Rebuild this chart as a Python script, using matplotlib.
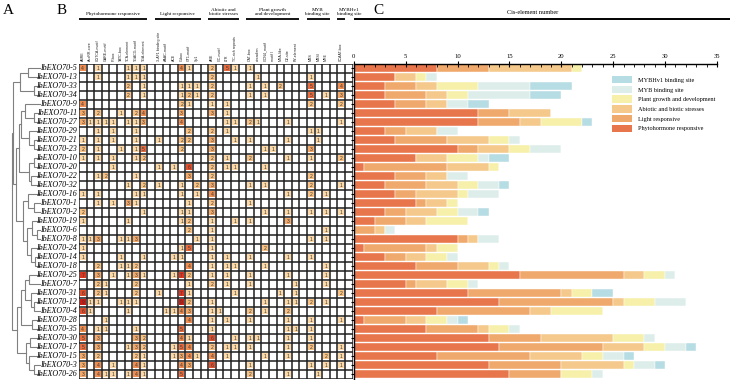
"""Cis-element chart for the IbEXO70 genes: tree, count table and stacked bars."""

import matplotlib
matplotlib.use('Agg')
import matplotlib.pyplot as plt
from matplotlib.patches import Rectangle, Patch
from matplotlib.lines import Line2D
import numpy as np

# ---- data -------------------------------------------------------------
genes = ['5', '13', '33', '34', '9', '11', '27', '29', '21', '23', '10', '20',
         '22', '32', '16', '1', '2', '19', '6', '8', '24', '14', '18', '25',
         '7', '31', '12', '4', '28', '35', '30', '17', '15', '3', '26']

phyto_elements = ['ABRE', 'AuxRR-core', 'CGTCA-motif', 'GARE-motif', 'P-box',
                  'TATC-box', 'TCA-element', 'TGACG-motif', 'TGA-element']
light_elements = ['3-AF1 binding site', 'AAAC-motif', 'ACE', 'G-box',
                  'GT1-motif', 'Sp1']
stress_elements = ['ARE', 'GC-motif', 'LTR', 'TC-rich repeats']
growth_elements = ['CAT-box', 'circadian', 'GCN4_motif', 'motif I',
                   'MSA-like', 'O2-site', 'RY-element']
myb_elements = ['MBS', 'MBSI', 'MRE']
mybhv1_elements = ['CCAAT-box']

group_names = ['Phytohormone responsive', 'Light responsive',
               'Abiotic and biotic stresses', 'Plant growth and development',
               'MYB binding site', 'MYBHv1 binding site']
group_headers = ['Phytohormone responsive', 'Light responsive',
                 'Abiotic and\nbiotic stresses', 'Plant growth\nand development',
                 'MYB\nbinding site', 'MYBHv1\nbinding site']
group_colors = ['#E8764C', '#F0A96C', '#F5C98C', '#F6F0AA', '#DDEEEA', '#B6DCE4']

# counts per gene, one char per element ('.' = 0), groups split by spaces
counts = [
    "4.1...111 ...41. 2.51 1...... ... .",
    "..1...111 ...... 2... .1..... 1.. .",
    "......2.1 ...111 2... 1.1.2.. 5.. 4",
    "......2.1 ...121 2... 1.1.... 5.1 3",
    "4........ ...21. 1.1. ....... 2.. 2",
    "3.2..1.24 ...3.. 3.1. ....... ... .",
    "31111.113 ...4.. ..11 21...1. ... 1",
    "..1.1..1. ....2. 2.1. ....... 11. .",
    "1.1.1..1. 1..22. 3..1 1....1. .1. .",
    "2.1..1.15 ...2.. 3... ..11... 3.. .",
    "1.1.1..12 ...... 2.1. 2....1. 1.. 2",
    "....1.... 1.1.6. 2.11 ..1.... ... .",
    "..12...1. ....3. 2... ....... 2.. .",
    "......1.2 1..1.2 3... 1.1.... 2.. 1",
    "1.1....11 ...1.1 4... .....1. 2.1 .",
    "..1.1.31. ....1. 2... 1...... ... .",
    "2.......1 ...11. 3... ..1..1. 1.1 1",
    "1.....1.. ...12. 1..1 1....3. ... .",
    "......... ....2. 1... ....... ..1 .",
    "113..113. .....1 1... ....... 1.1 .",
    "1........ ...15. 1... ..2.... ... .",
    "1....1..1 ..11.. 1.1. 1....1. 1.. .",
    "..2..112. ....4. 1.11 ..1.... ..1 .",
    "7.3.1.131 ..172. 1.1. 1....1. ..1 .",
    "..21...2. ....1. 2.1. 1.....1 ..1 .",
    "6.21...2. 1..71. ...1 ....1.1 ... 2",
    "911..111. ...92. 1... ..1..11 2.1 .",
    "61....1.. .1143. 11.. 2.1..2. ... .",
    "...1..... ....4. 1.1. 1....1. 1.. 1",
    "4.11...1. ...5.. 1... .....11 1.. .",
    "5.3....32 ...41. 6..1 11...1. 1.. .",
    "5.3...132 ..154. 2.11 1....1. 2.. 1",
    "3.2....21 ..1341 4.1. ..1..1. ..2 1",
    "3.4.1..41 ...43. 6... 1...... 1.1 1",
    "3.411.141 ...5.. .... 2....1. .1. .",
]

# clustering tree: (left, right, height), leaves are gene numbers
tree = (
    ((("5", "13", 0.44), ("33", "34", 0.25), 0.72),
     (((("9", ("11", "27", 0.25), 0.56), ("29", ("21", "23", 0.25), 0.40), 0.68),
       (("10", "20", 0.25), ("22", "32", 0.35), 0.42), 0.76),
      (("16", ("1", "2", 0.25), 0.44),
       (("19", ("6", "8", 0.15), 0.32), ("24", ("14", "18", 0.22), 0.36), 0.50), 0.62),
      0.88),
     0.97),
    (((("25", "7", 0.42), ("31", ("12", "4", 0.25), 0.36), 0.56),
      ("28", "35", 0.30), 0.70),
     ((("30", "17", 0.38), ("15", ("3", "26", 0.25), 0.40), 0.52)),
     0.82),
    1.0)

cell_colors = {1: '#FCD9A6', 2: '#F9C283', 3: '#F5A968', 4: '#F08C4E',
               5: '#EA6C3C', 6: '#E4502C', 7: '#DE3520', 9: '#CF1A12'}

# ---- layout ----------------------------------------------------------
W, H = 730, 380
SERIF = 'Liberation Serif'
SANS = 'Liberation Sans'

fig = plt.figure(figsize=(W / 100, H / 100), dpi=100)


def px_axes(x0, y0, x1, y1):
    return fig.add_axes([x0 / W, 1 - y1 / H, (x1 - x0) / W, (y1 - y0) / H])


TOP, BOTTOM = 63.5, 378.5
ax_tree = px_axes(11, TOP, 41, BOTTOM)
ax_heat = px_axes(79, TOP, 352.6, BOTTOM)
ax_bar = px_axes(353.8, TOP, 717, BOTTOM)

n_genes = len(genes)
groups = [phyto_elements, light_elements, stress_elements, growth_elements,
          myb_elements, mybhv1_elements]
header_shift = [0, 0, 0, 0, -0.1, 1.0]   # nudges so the last two headers don't touch

# element -> table column (one blank column after every group)
element_cols, spans = [], []
pos = 0
for elems in groups:
    start = pos
    for _ in elems:
        element_cols.append(pos)
        pos += 1
    spans.append((start, pos))
    pos += 1
n_cols = pos

matrix = np.array([[0 if ch == '.' else int(ch) for ch in row.replace(' ', '')]
                   for row in counts])

# ---- dendrogram --------------------------------------------------------
leaf_y = {g: i + 0.5 for i, g in enumerate(genes)}


def draw_node(node):
    if isinstance(node, str):
        return leaf_y[node], 0.0
    a, b, h = node
    ya, ha = draw_node(a)
    yb, hb = draw_node(b)
    ax_tree.plot([ha, h, h, hb], [ya, ya, yb, yb], color='#808080', lw=0.8,
                 solid_joinstyle='miter')
    return (ya + yb) / 2, h


draw_node(tree)
ax_tree.set_xlim(1.04, 0)
ax_tree.set_ylim(n_genes, 0)
ax_tree.axis('off')

# ---- heat table --------------------------------------------------------
for r in range(n_genes):
    for e, c in enumerate(element_cols):
        v = matrix[r, e]
        if v == 0:
            continue
        ax_heat.add_patch(Rectangle((c + 0.12, r + 0.12), 0.76, 0.76,
                                    facecolor=cell_colors[v], edgecolor='none'))
        ax_heat.text(c + 0.5, r + 0.55, str(v), ha='center', va='center',
                     fontsize=3.6, color='#3a3a3a', family=SANS)

ax_heat.vlines(np.arange(n_cols + 1), 0, n_genes, color='#1e1e1e', lw=1.1)
ax_heat.hlines(np.arange(n_genes + 1), 0, n_cols, color='#1e1e1e', lw=1.1)
ax_heat.set_xlim(0, n_cols)
ax_heat.set_ylim(n_genes, 0)
ax_heat.axis('off')

all_elements = [e for elems in groups for e in elems]
for name, c in zip(all_elements, element_cols):
    ax_heat.text(c + 0.5, -0.25, name, rotation=90, ha='center', va='bottom',
                 fontsize=2.6, family=SANS, color='#222')

for header, (start, end), dx in zip(group_headers, spans, header_shift):
    ax_heat.plot([start, end], [-5.0, -5.0], color='black', lw=1.3,
                 clip_on=False, solid_capstyle='butt')
    ax_heat.text((start + end) / 2 + dx, -5.3, header, ha='center', va='bottom',
                 fontsize=3.7, family=SERIF, linespacing=1.0)

for i, g in enumerate(genes):
    ax_heat.text(-0.3, i + 0.55, f'IbEXO70-{g}', ha='right', va='center',
                 fontsize=5.8, family=SERIF, style='italic')

# ---- stacked bars ------------------------------------------------------
rows = np.arange(n_genes) + 0.5
left = np.zeros(n_genes)
idx = 0
for name, color, elems in zip(group_names, group_colors, groups):
    vals = matrix[:, idx:idx + len(elems)].sum(axis=1)
    idx += len(elems)
    ax_bar.barh(rows, vals, left=left, height=0.8, color=color,
                edgecolor='white', linewidth=0.3, label=name)
    left += vals

ax_bar.set_xlim(0, 35)
ax_bar.set_ylim(n_genes, 0)
ax_bar.xaxis.tick_top()
ax_bar.set_xticks(np.arange(0, 36, 5))
ax_bar.set_xticks(np.arange(0, 36, 1), minor=True)
ax_bar.tick_params(axis='x', which='major', direction='inout', length=4,
                   width=0.8, labelsize=4.8, pad=1)
ax_bar.tick_params(axis='x', which='minor', direction='in', length=2, width=0.6)
ax_bar.set_yticks(rows)
ax_bar.tick_params(axis='y', direction='out', length=2, width=0.8,
                   labelleft=False)
for lab in ax_bar.get_xticklabels():
    lab.set_family(SERIF)
for side in ['right', 'bottom']:
    ax_bar.spines[side].set_visible(False)
ax_bar.spines['top'].set_linewidth(1.0)
ax_bar.spines['left'].set_linewidth(1.0)

handles = [Patch(facecolor=c, edgecolor='none', label=n)
           for n, c in zip(group_names, group_colors)][::-1]
ax_bar.legend(handles=handles, loc='upper left',
              bbox_to_anchor=(612 / W, 1 - 76 / H), bbox_transform=fig.transFigure,
              frameon=False, prop={'family': SERIF, 'size': 4.5},
              handlelength=3.2, handleheight=1.45, labelspacing=0.37,
              handletextpad=1.0, borderpad=0, borderaxespad=0)

# ---- titles / panel letters --------------------------------------------
fig.text(533 / W, 1 - 13 / H, 'Cis-element number', ha='center', va='center',
         fontsize=4.5, family=SERIF)
fig.add_artist(Line2D([355 / W, 730 / W], [1 - 19 / H, 1 - 19 / H],
                      color='black', lw=1.4))
for letter, x in [('A', 8), ('B', 62), ('C', 378)]:
    fig.text(x / W, 1 - 10 / H, letter, ha='center', va='center',
             fontsize=11, family=SERIF)

fig.savefig('out.png', dpi=100)
